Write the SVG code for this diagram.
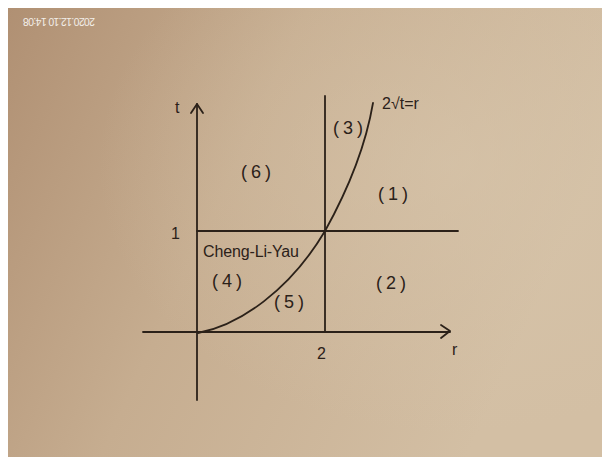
<svg xmlns="http://www.w3.org/2000/svg" width="602" height="457" viewBox="0 0 602 457">
  <defs>
    <linearGradient id="paper" x1="0" y1="0" x2="1" y2="0.35">
      <stop offset="0" stop-color="#b09073"/>
      <stop offset="0.45" stop-color="#c6ad90"/>
      <stop offset="1" stop-color="#d3bfa4"/>
    </linearGradient>
    <radialGradient id="glow" cx="0.75" cy="0.35" r="0.6">
      <stop offset="0" stop-color="#d8c6ac" stop-opacity="0.6"/>
      <stop offset="1" stop-color="#d8c6ac" stop-opacity="0"/>
    </radialGradient>
    <style>
      .ink { stroke: #2b2119; stroke-width: 1.8; fill: none; stroke-linecap: round; stroke-linejoin: round; }
      .lbl { font-family: "Liberation Sans", "DejaVu Sans", sans-serif; fill: #2b2119; font-size: 16px; }
      .reg { font-family: "Liberation Sans", "DejaVu Sans", sans-serif; fill: #2b2119; font-size: 18px; letter-spacing: 4px; text-anchor: middle; }
    </style>
  </defs>

  <rect x="0" y="0" width="602" height="457" fill="#ffffff"/>
  <rect x="8" y="8" width="594" height="449" fill="url(#paper)"/>
  <rect x="8" y="8" width="594" height="449" fill="url(#glow)"/>

  <text x="59" y="25.5" transform="rotate(180 59 21.5)" font-family="Liberation Sans, sans-serif" font-size="10.5" fill="#f2eee8" text-anchor="middle" textLength="72">2020.12.10 14:08</text>

  <g id="connectors">
    <g id="t-axis">
      <line class="ink" x1="197" y1="400" x2="197" y2="104"/>
      <polyline class="ink" points="191,113 197,104 203,113"/>
    </g>
    <g id="r-axis">
      <line class="ink" x1="143" y1="332" x2="450" y2="332"/>
      <polyline class="ink" points="441,325 450,331 441,338"/>
    </g>
    <line id="t-equals-1" class="ink" x1="197" y1="231" x2="458" y2="231"/>
    <line id="r-equals-2" class="ink" x1="325" y1="96" x2="325" y2="332"/>
    <path id="curve" class="ink" d="M198,333 C240,325 290,290 325,231 C345,195 365,150 373,103"/>
  </g>

  <g id="axis-labels">
    <text class="lbl" x="175" y="113" font-size="24">t</text>
    <text class="lbl" x="452" y="355" font-size="19">r</text>
    <text class="lbl" x="171" y="239" font-size="16">1</text>
    <text class="lbl" x="317" y="359" font-size="21">2</text>
    <text class="lbl" x="382" y="109" font-size="14">2√t=r</text>
  </g>

  <g id="region-1"><text class="reg" x="395" y="200">(1)</text></g>
  <g id="region-2"><text class="reg" x="393" y="289">(2)</text></g>
  <g id="region-3"><text class="reg" x="350" y="134">(3)</text></g>
  <g id="region-4"><text class="reg" x="229" y="287">(4)</text></g>
  <g id="region-5"><text class="reg" x="291" y="308">(5)</text></g>
  <g id="region-6"><text class="reg" x="258" y="178">(6)</text></g>
  <g id="cheng-li-yau"><text class="lbl" x="203" y="257" font-size="15" textLength="96">Cheng-Li-Yau</text></g>
</svg>
